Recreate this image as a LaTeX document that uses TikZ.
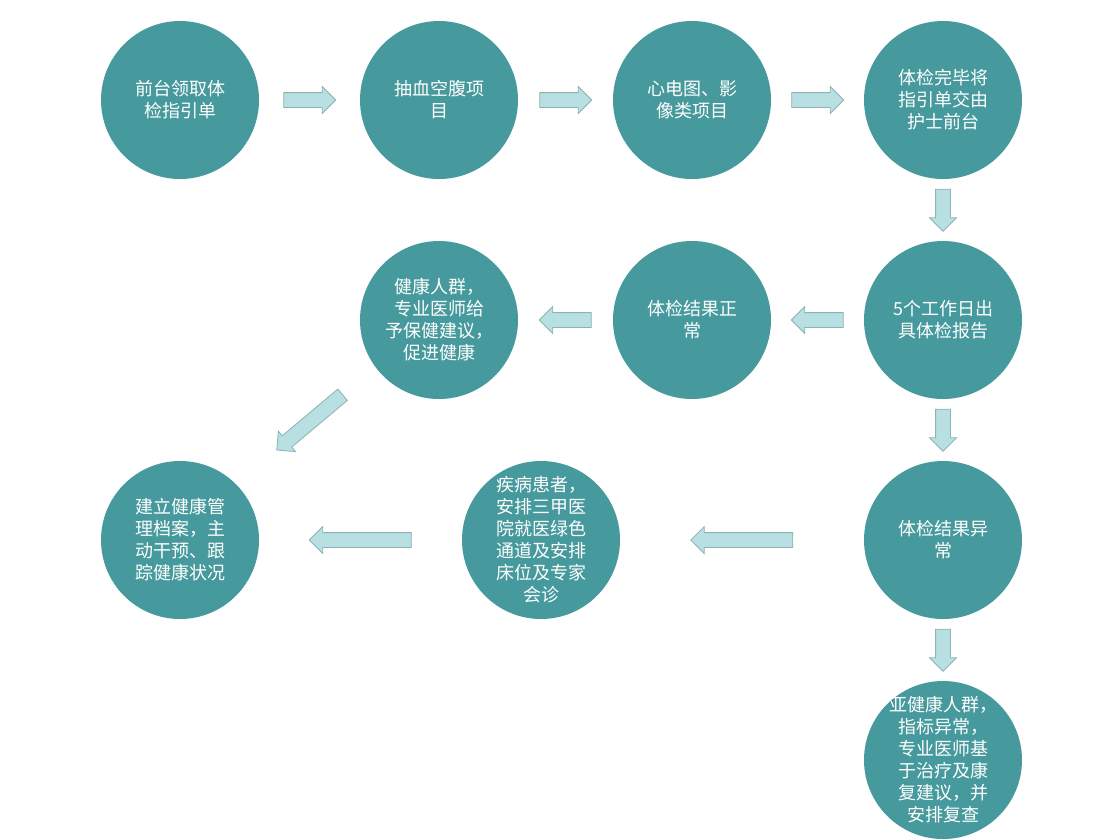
\documentclass[tikz,border=0pt]{standalone}
\usepackage{fontspec}
\newfontfamily\cjk{Noto Sans CJK SC}
\usepackage{xcolor}
\usepackage{tikz}
\usetikzlibrary{shapes,arrows,calc}
\definecolor{tealStep}{RGB}{70,153,156}
\definecolor{arrowFill}{RGB}{184,223,225}
\definecolor{arrowLine}{RGB}{140,178,178}
\tikzstyle{tsText} = [ 
    text=white, 
    font=\cjk\fontsize{18}{22}\selectfont
]
\tikzstyle{tsCircle} = [ 
    circle,
    tsText,
    align=center,
    inner sep=-10pt,
    minimum size=158,
    fill=tealStep
]
\tikzstyle{tsBlockArrow} = [ 
    single arrow,
    draw=arrowLine,
    fill=arrowFill,
    line width=0.8pt,
    inner xsep=0pt,
    inner ysep=7pt,
    single arrow head extend=6
]
\tikzstyle{tsArrowRight} = [ 
    xshift=-3.5pt,
    tsBlockArrow
]
\tikzstyle{tsArrowLeft} = [ 
    xshift=3.5pt,
    tsBlockArrow,
    rotate=180
]
\tikzstyle{tsArrowDown} = [ 
    yshift=3.5pt,
    tsBlockArrow,
    rotate=270,
    minimum height=42
]

\begin{document}
\begin{tikzpicture}[x=1pt, y=-1pt]

        \useasboundingbox (0,0) rectangle (1117,839);
        \clip (0,0) rectangle (1117,839);

        % first row
        \node[tsCircle] (guide) at (180,100) {前台领取体\\检指引单};
        \node[tsCircle] (blood) at (439,100) {抽血空腹项\\目};
        \node[tsCircle] (ecg) at (692,100) {心电图、影\\像类项目};
        \node[tsCircle] (finish) at (943,100) {体检完毕将\\指引单交由\\护士前台};

        % second row
        \node[tsCircle] (healthy) at (439,320) {健康人群，\\专业医师给\\予保健建议，\\促进健康};
        \node[tsCircle] (normal) at (692,320) {体检结果正\\常};
        \node[tsCircle] (report) at (943,320) {5个工作日出\\具体检报告};

        % third row
        \node[tsCircle] (archive) at (180,540) {建立健康管\\理档案，主\\动干预、跟\\踪健康状况};
        \node[tsCircle] (patient) at (541,540) {疾病患者，\\安排三甲医\\院就医绿色\\通道及安排\\床位及专家\\会诊};
        \node[tsCircle] (abnormal) at (943,540) {体检结果异\\常};

        \node[tsCircle] (subhealth) at (943,760) {亚健康人群，\\指标异常，\\专业医师基\\于治疗及康\\复建议，并\\安排复查};

        % block arrows
        \node[tsArrowRight, minimum height=52] (a1) at ($(guide.east)!0.5!(blood.west)$) {};
        \node[tsArrowRight, minimum height=52] (a2) at ($(blood.east)!0.5!(ecg.west)$) {};
        \node[tsArrowRight, minimum height=52] (a3) at ($(ecg.east)!0.5!(finish.west)$) {};
        \node[tsArrowDown] (a4) at ($(finish.south)!0.5!(report.north)$) {};
        \node[tsArrowLeft, minimum height=52] (a5) at ($(report.west)!0.5!(normal.east)$) {};
        \node[tsArrowLeft, minimum height=52] (a6) at ($(normal.west)!0.5!(healthy.east)$) {};
        \node[tsBlockArrow, minimum height=86, rotate=220] (a7) at ($(healthy)!0.5!(archive)+(3,-10)$) {};
        \node[tsArrowDown] (a8) at ($(report.south)!0.5!(abnormal.north)$) {};
        \node[tsArrowLeft, minimum height=102] (a9) at ($(abnormal.west)!0.5!(patient.east)$) {};
        \node[tsArrowLeft, minimum height=102] (a10) at ($(patient.west)!0.5!(archive.east)$) {};
        \node[tsArrowDown] (a11) at ($(abnormal.south)!0.5!(subhealth.north)$) {};

    \end{tikzpicture}
\end{document}
